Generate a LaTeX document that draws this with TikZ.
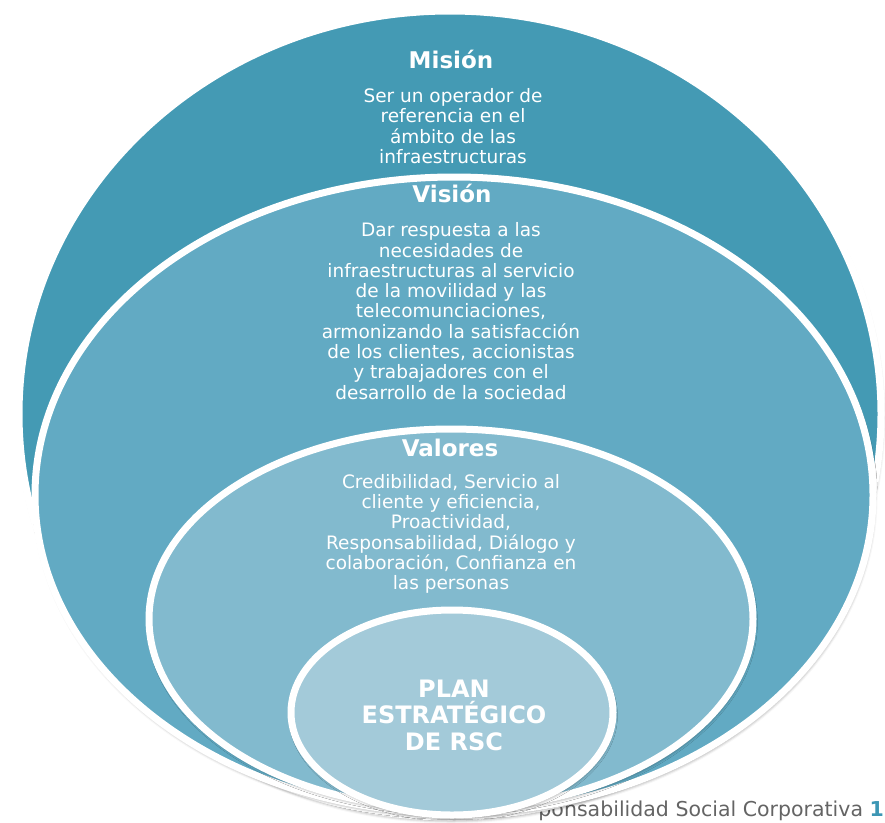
\documentclass[tikz,border=0pt]{standalone}
\usepackage{fontspec}
\setmainfont{DejaVu Sans}
\usetikzlibrary{shapes.geometric, shadows.blur}
\definecolor{misionblue}{RGB}{68, 154, 180}
\definecolor{visionblue}{RGB}{98, 170, 195}
\definecolor{valoresblue}{RGB}{130, 186, 206}
\definecolor{planblue}{RGB}{163, 202, 217}
\definecolor{footergray}{RGB}{100, 100, 100}
\definecolor{pagenum}{RGB}{60, 150, 180}
\tikzset{
  ring/.style={ellipse, draw=white, line width=7pt, inner sep=0pt,
    blur shadow={shadow xshift=1pt, shadow yshift=-3pt, shadow blur radius=3.5pt, shadow opacity=50}},
  ringtitle/.style={anchor=base, text=white, font=\bfseries\fontsize{23}{27}\selectfont},
  ringtext/.style={text=white, align=center, inner sep=0pt, font=\fontsize{18.5}{20.3}\selectfont}
}

\begin{document}
\begin{tikzpicture}[x=1pt, y=-1pt]
  \useasboundingbox (0,0) rectangle (885,822);
  \clip (0,0) rectangle (885,822);

  % Footer, partly hidden behind the rings
  \node[anchor=base east, text=footergray, inner sep=0pt, font=\fontsize{20.5}{24}\selectfont] (footer) at (884,816) {ponsabilidad Social Corporativa \textcolor{pagenum}{\textbf{1}}};

  % Nested rings, all resting on the bottom
  \node[ring, fill=misionblue, minimum width=862pt, minimum height=806pt] (mision) at (450,414) {};
  \node[ring, fill=visionblue, minimum width=838pt, minimum height=636pt] (vision) at (454,495) {};
  \node[ring, fill=valoresblue, minimum width=604pt, minimum height=380pt] (valores) at (451,619) {};
  \node[ring, fill=planblue, minimum width=322pt, minimum height=205pt] (plan) at (452,712.5) {};

  % Mision
  \node[ringtitle] (misiontitle) at (451,68) {Misión};
  \node[ringtext] (misiontext) at (453,126) {Ser un operador de\\referencia en el\\ámbito de las\\infraestructuras};

  % Vision
  \node[ringtitle] (visiontitle) at (452,202) {Visión};
  \node[ringtext] (visiontext) at (451,311) {Dar respuesta a las\\necesidades de\\infraestructuras al servicio\\de la movilidad y las\\telecomunciaciones,\\armonizando la satisfacción\\de los clientes, accionistas\\y trabajadores con el\\desarrollo de la sociedad};

  % Valores
  \node[ringtitle] (valorestitle) at (450,456) {Valores};
  \node[ringtext] (valorestext) at (451,534) {Credibilidad, Servicio al\\cliente y eficiencia,\\Proactividad,\\Responsabilidad, Diálogo y\\colaboración, Confianza en\\las personas};

  % Plan
  \node[text=white, align=center, inner sep=0pt, font=\bfseries\fontsize{24}{26.5}\selectfont] (plantext) at (454,715) {PLAN\\ESTRATÉGICO\\DE RSC};
\end{tikzpicture}
\end{document}
